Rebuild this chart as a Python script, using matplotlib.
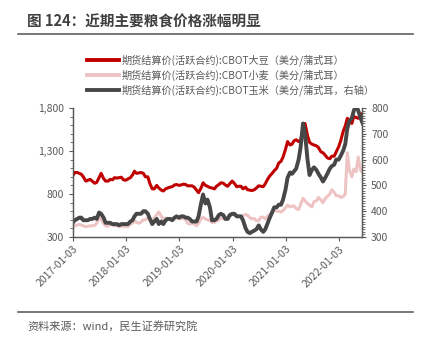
"""近期主要粮食价格涨幅明显: CBOT soybean / wheat / corn settlement prices."""

import matplotlib
matplotlib.use('Agg')
import matplotlib.pyplot as plt
import matplotlib.dates as mdates
from matplotlib.lines import Line2D
from matplotlib.ticker import FuncFormatter, MultipleLocator
import pandas as pd

plt.rcParams['font.family'] = ['Noto Sans CJK SC', 'DejaVu Sans']

# semi-monthly samples (1st and 15th), 2017-01 .. 2022-06
dates = pd.date_range('2017-01-01', '2022-06-15', freq='SMS')

soybean = [
    1010, 1050, 1050, 1040, 1030, 1000, 950, 960, 970, 950, 925, 935,
    990, 1040, 980, 950, 950, 970, 965, 990, 985, 990, 995, 965,
    960, 975, 990, 1020, 1065, 1040, 1045, 1050, 1040, 1000, 1000, 920,
    860, 860, 900, 870, 845, 835, 860, 870, 880, 885, 905, 910,
    900, 905, 915, 910, 895, 895, 895, 880, 845, 815, 870, 930,
    900, 890, 875, 870, 860, 890, 910, 930, 925, 905, 890, 920,
    950, 925, 885, 890, 890, 860, 880, 850, 845, 840, 850, 870,
    895, 890, 885, 920, 975, 1010, 1040, 1070, 1100, 1160, 1180, 1230,
    1320, 1410, 1370, 1380, 1420, 1430, 1410, 1430, 1560, 1620, 1480, 1400,
    1380, 1370, 1360, 1340, 1290, 1280, 1250, 1220, 1210, 1240, 1240, 1290,
    1350, 1420, 1530, 1590, 1680, 1660, 1620, 1700, 1690, 1680, 1720, 1740,
]

wheat = [
    420, 430, 440, 445, 440, 430, 420, 425, 430, 430, 435, 460,
    530, 500, 460, 430, 425, 445, 440, 430, 430, 430, 425, 420,
    425, 420, 450, 460, 490, 470, 460, 475, 500, 500, 525, 500,
    490, 520, 560, 590, 540, 510, 520, 515, 505, 505, 520, 525,
    510, 515, 520, 500, 460, 450, 465, 450, 430, 460, 510, 530,
    510, 500, 490, 470, 470, 485, 500, 520, 515, 515, 525, 540,
    560, 570, 555, 545, 530, 550, 560, 555, 525, 510, 515, 490,
    490, 530, 530, 510, 545, 560, 590, 620, 600, 600, 590, 610,
    640, 670, 650, 660, 660, 630, 620, 680, 750, 720, 690, 670,
    650, 710, 720, 760, 730, 700, 750, 770, 800, 850, 820, 780,
    780, 760, 770, 800, 1280, 1080, 1000, 1090, 1060, 1230, 1070, 1050,
]

corn = [
    355, 365, 370, 375, 375, 365, 365, 365, 370, 370, 375, 370,
    395, 390, 375, 355, 355, 355, 350, 350, 350, 345, 350, 350,
    350, 350, 360, 365, 380, 390, 390, 390, 400, 400, 390, 370,
    350, 360, 370, 350, 360, 350, 365, 370, 370, 365, 375, 380,
    375, 380, 380, 375, 375, 370, 360, 360, 360, 380, 430, 465,
    430, 445, 415, 365, 365, 370, 385, 390, 385, 370, 370, 385,
    390, 390, 380, 380, 380, 365, 335, 320, 315, 320, 325, 330,
    345, 330, 320, 330, 355, 375, 395, 415, 415, 425, 425, 445,
    484, 530, 550, 545, 555, 565, 600, 650, 740, 700, 600, 540,
    560, 570, 560, 545, 530, 515, 530, 545, 565, 575, 580, 600,
    600, 615, 635, 660, 720, 750, 760, 790, 810, 790, 760, 740,
]

labels = [
    '期货结算价(活跃合约):CBOT大豆（美分/蒲式耳）',
    '期货结算价(活跃合约):CBOT小麦（美分/蒲式耳）',
    '期货结算价(活跃合约):CBOT玉米（美分/蒲式耳，右轴）',
]
colors = ['#C00000', '#EDC3C3', '#474747']
xticks = ['2017-01-03', '2018-01-03', '2019-01-03', '2020-01-03',
          '2021-01-03', '2022-01-03']
left_ticks = [300, 800, 1300, 1800]

grey = '#595959'

fig = plt.figure(figsize=(4.27, 3.46), dpi=100)
ax = fig.add_axes([73 / 427, 1 - 237 / 346, (362 - 73) / 427, 129 / 346])
ax2 = ax.twinx()

ax.plot(dates, wheat, color=colors[1], lw=2.2, zorder=2)
ax.plot(dates, soybean, color=colors[0], lw=2.2, zorder=3)
ax2.plot(dates, corn, color=colors[2], lw=2.8)

ax.set_xlim(pd.Timestamp('2017-01-03'), pd.Timestamp('2022-06-10'))
ax.set_ylim(300, 1800)
ax2.set_ylim(300, 800)

ax.set_yticks(left_ticks)
ax.set_yticks(range(300, 1801, 100), minor=True)
ax.yaxis.set_major_formatter(FuncFormatter(lambda v, _: f'{v:,.0f}'))
ax2.yaxis.set_major_locator(MultipleLocator(100))
ax2.yaxis.set_minor_locator(MultipleLocator(10))

ax.set_xticks([pd.Timestamp(t) for t in xticks])
ax.xaxis.set_major_formatter(mdates.DateFormatter('%Y-%m-%d'))
for lab in ax.get_xticklabels():
    lab.set_rotation(45)
    lab.set_ha('right')
    lab.set_rotation_mode('anchor')

for a in (ax, ax2):
    a.tick_params(axis='both', which='major', labelsize=7.5, labelcolor=grey,
                  color=grey, length=3, width=0.8)
    a.tick_params(axis='y', which='minor', color=grey, length=2, width=0.6)
    a.spines['top'].set_visible(False)
    for s in ('left', 'right', 'bottom'):
        a.spines[s].set_color(grey)
        a.spines[s].set_linewidth(0.9)
ax.tick_params(axis='x', which='major', pad=2)

handles = [Line2D([], [], color=c, lw=2.8) for c in colors]
fig.legend(handles, labels, loc='upper left',
           bbox_to_anchor=(87 / 427, 1 - 54 / 346), frameon=False,
           fontsize=7.3, handlelength=3.2, handletextpad=0.2,
           labelspacing=0.35, borderpad=0, borderaxespad=0,
           labelcolor=grey)

fig.text(27 / 427, 1 - 22 / 346, '图 124：近期主要粮食价格涨幅明显',
         fontsize=10.5, fontweight='bold', color='#404040', va='center')
fig.add_artist(Line2D([18 / 427, 413 / 427], [1 - 34 / 346, 1 - 34 / 346],
                      color='#606060', lw=1.2))
fig.add_artist(Line2D([18 / 427, 413 / 427], [1 - 312 / 346, 1 - 312 / 346],
                      color='#606060', lw=1.2))
fig.text(27 / 427, 1 - 326 / 346, '资料来源：wind，民生证券研究院',
         fontsize=8, color=grey, va='center')

fig.savefig('out.png', dpi=100)
